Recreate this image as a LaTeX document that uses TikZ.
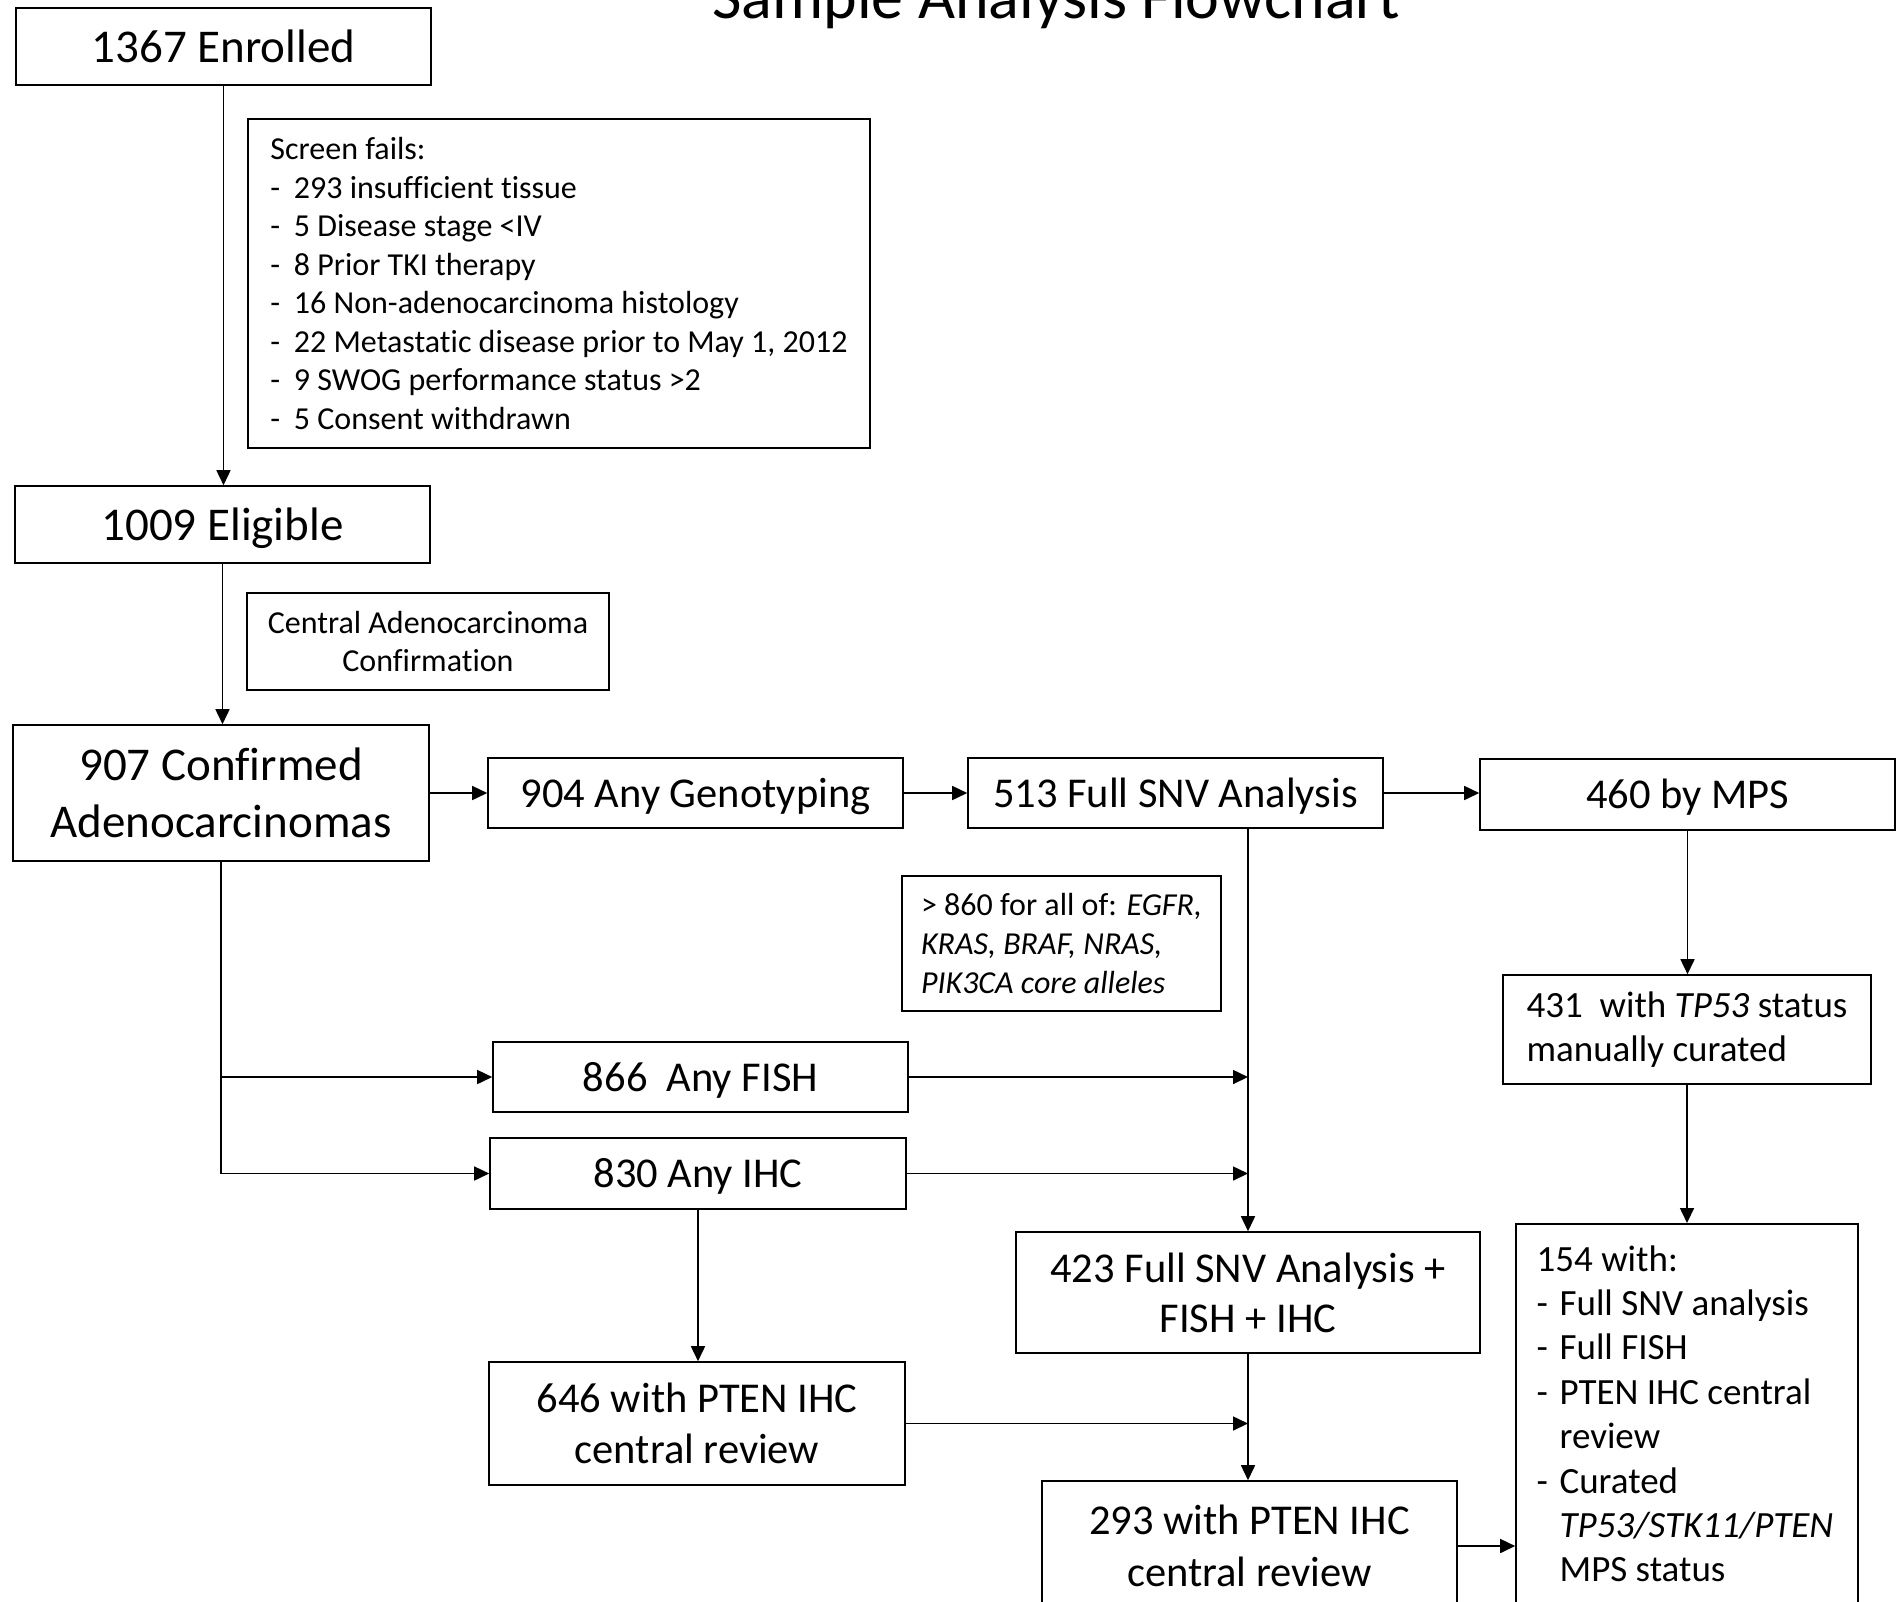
\documentclass[tikz,border=0pt]{standalone}
\usepackage{fontspec}
\setmainfont{Carlito}[Ligatures=NoCommon]
\usetikzlibrary{arrows.meta}
\begin{document}
\begin{tikzpicture}[x=0.5pt,y=-0.5pt,
  box/.style={draw=black, line width=0.8pt, fill=white, inner sep=0pt, align=center},
  fbig/.style={font=\fontsize{23.5}{28.5}\selectfont},
  fmid/.style={font=\fontsize{21.25}{25.2}\selectfont},
  fsm/.style={font=\fontsize{18.5}{22.2}\selectfont},
  ftiny/.style={font=\fontsize{16}{19.3}\selectfont},
  onebig/.style={fbig, text height=18.8pt, text depth=2.8pt},
  onemid/.style={fmid, text height=17pt, text depth=2.55pt},
  arr/.style={line width=0.8pt, -{Triangle[length=7.5pt,width=7pt]}}]
\fill[white] (0,0) rectangle (1899,1601);
\useasboundingbox (0,0) rectangle (1899,1601);

\node[font=\fontsize{32}{38}\selectfont, anchor=base, inner sep=0pt] (title) at (1056,18) {Sample Analysis Flowchart};

\node[box, onebig, minimum width=207.5pt, minimum height=38.5pt] (enrolled) at (223.5,46.5) {1367 Enrolled};
\node[box, ftiny, align=left, minimum width=311pt, minimum height=164.5pt] (screen) at (559,283.5)
  {Screen fails:\\
   \makebox[11.75pt][l]{-}293 insufficient tissue\\
   \makebox[11.75pt][l]{-}5 Disease stage <IV\\
   \makebox[11.75pt][l]{-}8 Prior TKI therapy\\
   \makebox[11.75pt][l]{-}16 Non-adenocarcinoma histology\\
   \makebox[11.75pt][l]{-}22 Metastatic disease prior to May 1, 2012\\
   \makebox[11.75pt][l]{-}9 SWOG performance status >2\\
   \makebox[11.75pt][l]{-}5 Consent withdrawn};
\node[box, onebig, minimum width=207.5pt, minimum height=38.5pt] (eligible) at (222.5,524.5) {1009 Eligible};
\node[box, font=\fontsize{16}{18.75}\selectfont, minimum width=181pt, minimum height=48.5pt] (central) at (428,641.5) {Central Adenocarcinoma\\Confirmation};
\node[box, fbig, minimum width=208pt, minimum height=68pt] (confirmed) at (221,793) {907 Confirmed\\Adenocarcinomas};
\node[box, onemid, minimum width=207.5pt, minimum height=35pt] (geno) at (695.5,793) {904 Any Genotyping};
\node[box, onemid, minimum width=207.5pt, minimum height=35pt] (snv) at (1175.5,793) {513 Full SNV Analysis};
\node[box, onemid, minimum width=207.5pt, minimum height=35.5pt] (mps) at (1687.5,794.5) {460 by MPS};
\node[box, ftiny, align=left, minimum width=159.5pt, minimum height=67.5pt] (k860) at (1061.5,943.5)
  {> 860 for all of: \textit{EGFR,}\\\textit{KRAS, BRAF, NRAS,}\\\textit{PIK3CA core alleles}};
\node[box, fsm, align=left, minimum width=184pt, minimum height=54.5pt] (tp53) at (1687,1029.5)
  {431~~with \textit{TP53} status\\manually curated};
\node[box, onemid, minimum width=207.5pt, minimum height=35pt] (fish) at (700.5,1077) {866~~Any FISH};
\node[box, onemid, minimum width=208pt, minimum height=35.5pt] (ihc) at (698,1173.5) {830 Any IHC};
\node[box, font=\fontsize{21.25}{24.9}\selectfont, minimum width=232pt, minimum height=60.5pt] (snv423) at (1248,1292.5) {423 Full SNV Analysis +\\FISH + IHC};
\node[box, font=\fontsize{21.25}{25.5}\selectfont, minimum width=208pt, minimum height=61.5pt] (pten646) at (697,1423.5) {646 with PTEN IHC\\central review};
\node[box, font=\fontsize{21.25}{26}\selectfont, minimum width=207.5pt, minimum height=65pt] (pten293) at (1249.5,1546) {293 with PTEN IHC\\central review};
\node[box, anchor=north, minimum width=171pt, minimum height=210pt] (b154) at (1687,1223) {};
\node[fsm, align=left, inner sep=0pt, anchor=north west] (t154) at ([xshift=10.5pt,yshift=-11pt]b154.north west)
  {154 with:\\
   \makebox[11.5pt][l]{-}Full SNV analysis\\
   \makebox[11.5pt][l]{-}Full FISH\\
   \makebox[11.5pt][l]{-}PTEN IHC central\\
   \hspace*{11.5pt}review\\
   \makebox[11.5pt][l]{-}Curated\\
   \hspace*{11.5pt}\textit{TP53/STK11/PTEN}\\
   \hspace*{11.5pt}MPS status};

\draw[arr] (enrolled.south) -- (enrolled.south |- eligible.north);
\draw[arr] (eligible.south) -- (eligible.south |- confirmed.north);
\draw[arr] (confirmed.east) -- (geno.west);
\draw[arr] (geno.east) -- (snv.west);
\draw[arr] (snv.east) -- (snv.east -| mps.west);
\draw[arr] (mps.south) -- (mps.south |- tp53.north);
\draw[arr] (tp53.south) -- (tp53.south |- b154.north);
\draw[arr] (snv.south -| snv423.north) -- (snv423.north);
\draw[arr] (confirmed.south) |- (ihc.west);
\draw[arr] (confirmed.south |- fish.west) -- (fish.west);
\draw[arr] (fish.east) -- (fish.east -| snv423.north);
\draw[arr] (ihc.east) -- (ihc.east -| snv423.north);
\draw[arr] (ihc.south) -- (ihc.south |- pten646.north);
\draw[arr] (pten646.east) -- (pten646.east -| snv423.south);
\draw[arr] (snv423.south) -- (snv423.south |- pten293.north);
\draw[arr] (pten293.east) -- (pten293.east -| b154.west);
\end{tikzpicture}
\end{document}
